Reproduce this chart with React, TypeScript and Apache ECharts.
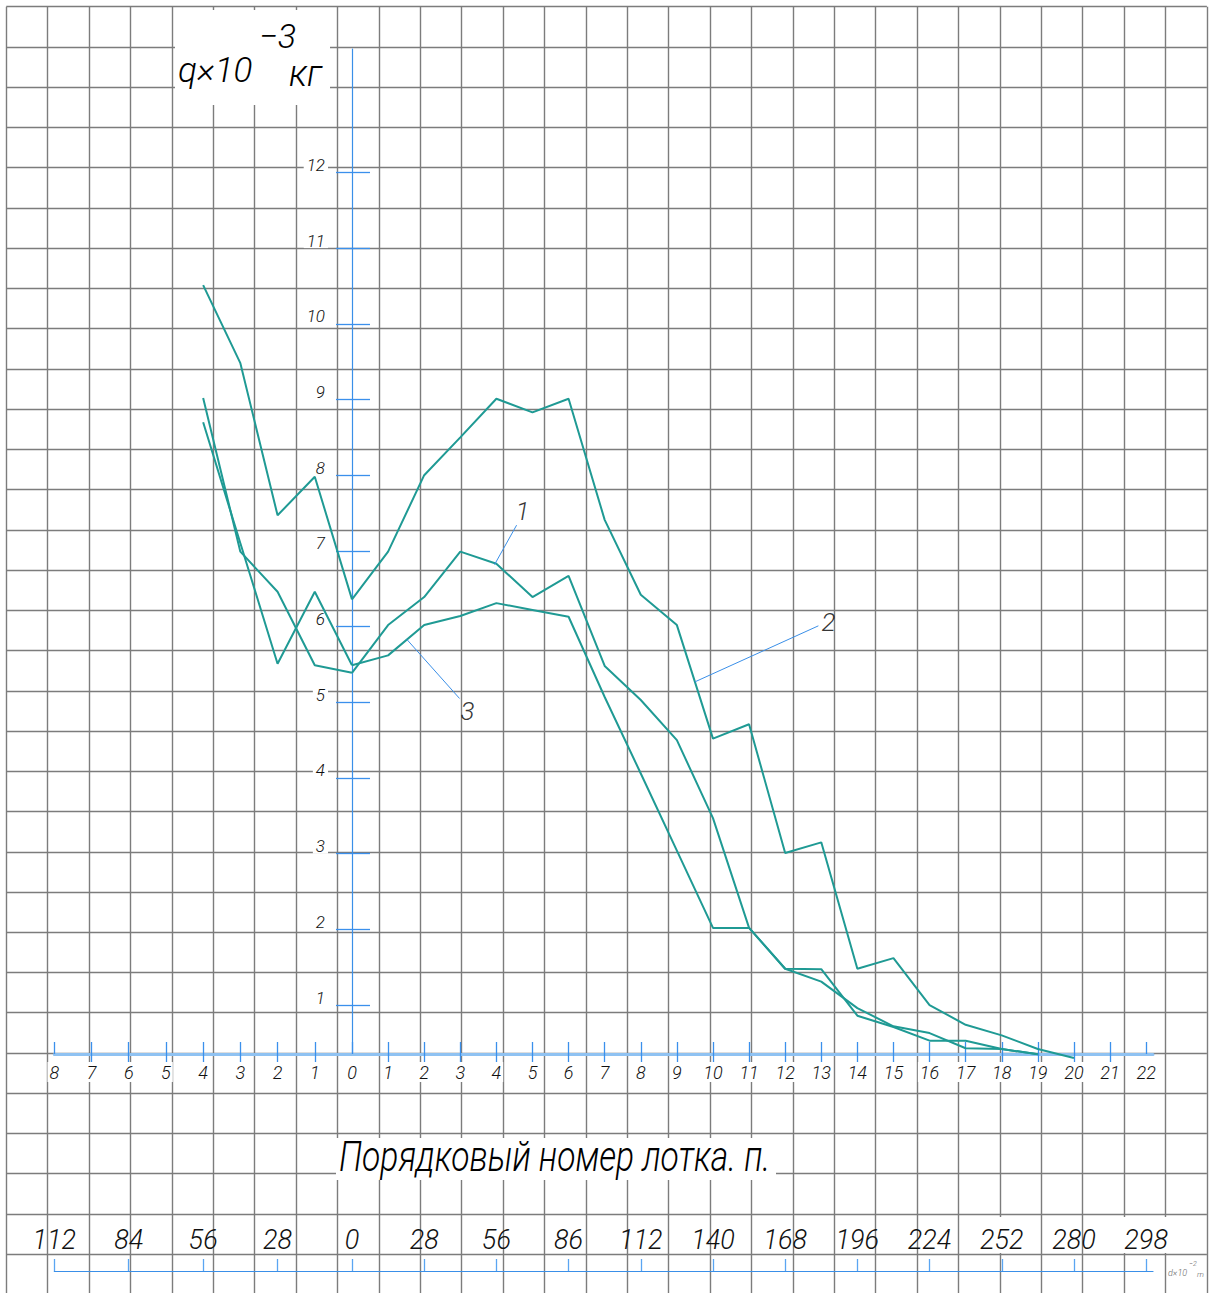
import React, { useEffect, useRef } from "react";
import * as echarts from "echarts";

// ---------- data (lot numbers; left side of zero uses negative positions) ----------
const lotsLeft = [-4, -3, -2, -1, 0];
const lotsRight = [0, 1, 2, 3, 4, 5, 6, 7, 8, 9, 10, 11, 12, 13, 14, 15, 16, 17, 18, 19, 20];

const curve2Left = [10.51, 9.48, 7.47, 7.98, 6.36];
const curve1Left = [9.02, 6.99, 6.46, 5.49, 5.39];
const curve3Left = [8.7, 7.1, 5.51, 6.46, 5.49];

const curve2Right = [6.36, 6.99, 8.0, 8.5, 9.01, 8.83, 9.01, 7.41, 6.42, 6.02, 4.52, 4.71, 3.01, 3.15, 1.48, 1.62, 1.0, 0.74, 0.6, 0.42, 0.3];
const curve1Right = [5.39, 6.02, 6.39, 6.99, 6.83, 6.39, 6.67, 5.48, 5.03, 4.5, 3.47, 2.02, 1.48, 1.475, 0.86, 0.71, 0.53, 0.53, 0.42, 0.35];
const curve3Right = [5.49, 5.62, 6.02, 6.14, 6.31, 6.22, 6.13, 5.07, 4.06, 3.04, 2.02, 2.02, 1.48, 1.31, 0.96, 0.72, 0.63, 0.43, 0.42, 0.35];

// tick values / labels
const xTicksLeft = [-8, -7, -6, -5, -4, -3, -2, -1];
const xTicksRight = [0, 1, 2, 3, 4, 5, 6, 7, 8, 9, 10, 11, 12, 13, 14, 15, 16, 17, 18, 19, 20, 21, 22];
const yTicks = [1, 2, 3, 4, 5, 6, 7, 8, 9, 10, 11, 12];
const distTicksLeft = [-8, -6, -4, -2];
const distLabelsLeft = ["112", "84", "56", "28"];
const distTicksRight = [0, 2, 4, 6, 8, 10, 12, 14, 16, 18, 20, 22];
const distLabelsRight = ["0", "28", "56", "86", "112", "140", "168", "196", "224", "252", "280", "298"];
const boxedDistLabels = ["252", "298"];

// curve annotations (label, leader start on curve, leader end, label point)
const annotationLabels = ["1", "2", "3"];
const leaderStart = [[3.95, 6.82], [9.5, 5.27], [1.52, 5.83]];
const leaderEnd = [[4.56, 7.34], [12.92, 6.01], [2.98, 5.05]];
const labelPos = [[4.72, 7.53], [13.2, 6.06], [3.2, 4.89]];

// ---------- style ----------
const FONT = "Roboto";
const TEXT = "#111";
const BLUE = "#3a8fe8";
const TICK_BLUE = "#3b90ec";
const AXIS_LIGHT = "#8fc2f2";
const TEAL = "#1f9a94";
const GRID_GRAY = "#7c7c7c";

const LEFT_MIN = -8;
const LEFT_MAX = 0;
const RIGHT_MIN = 0;
const RIGHT_MAX = 22.19;
const Y_MIN = 0.354;
const Y_MAX = 13.63;

const txt = {
  fontFamily: FONT,
  fontStyle: "italic" as const,
  fontWeight: 300,
  color: TEXT,
};

function mainX(gridIndex: number, min: number, max: number, ticks: number[]) {
  return {
    gridIndex,
    type: "value",
    min,
    max,
    position: "bottom",
    axisLine: { show: true, onZero: false, lineStyle: { color: AXIS_LIGHT, width: 3 } },
    axisTick: { show: true, inside: true, length: 12, customValues: ticks, lineStyle: { color: TICK_BLUE, width: 1.3 } },
    axisLabel: {
      show: true,
      customValues: ticks,
      formatter: (v: number) => String(Math.abs(v)),
      margin: 8,
      fontSize: 18,
      ...txt,
      backgroundColor: "#fff",
      padding: [1, 2],
    },
    splitLine: { show: false },
    z: 4,
  };
}

function outsideX(gridIndex: number, min: number, max: number, ticks: number[]) {
  return {
    gridIndex,
    type: "value",
    min,
    max,
    position: "bottom",
    axisLine: { show: false, onZero: false },
    axisTick: { show: true, inside: false, length: 8, customValues: ticks, lineStyle: { color: TICK_BLUE, width: 1.3 } },
    axisLabel: { show: false },
    splitLine: { show: false },
    z: 4,
  };
}

function distX(gridIndex: number, min: number, max: number, ticks: number[], labels: string[]) {
  return {
    gridIndex,
    type: "value",
    min,
    max,
    position: "bottom",
    offset: 217,
    axisLine: { show: true, onZero: false, lineStyle: { color: BLUE, width: 1.2 } },
    axisTick: { show: true, inside: true, length: 12, customValues: ticks, lineStyle: { color: "#5aa5f2", width: 1.3 } },
    axisLabel: {
      show: true,
      inside: true,
      margin: 18,
      customValues: ticks,
      formatter: (v: number) => {
        const i = ticks.indexOf(v);
        const s = i >= 0 ? labels[i] : "";
        return boxedDistLabels.includes(s) ? `{w|${s}}` : s;
      },
      fontSize: 27,
      ...txt,
      rich: {
        w: { backgroundColor: "#fff", padding: [9, 5, 0, 5], fontSize: 27, ...txt },
      },
    },
    splitLine: { show: false },
    z: 4,
  };
}

export default function App() {
  const ref = useRef<HTMLDivElement>(null);

  useEffect(() => {
    if (!ref.current) return;
    const chart = echarts.init(ref.current, undefined, { renderer: "svg" });

    const curveLine = (lots: number[], vals: number[], xi: number, yi: number) => ({
      type: "line",
      xAxisIndex: xi,
      yAxisIndex: yi,
      data: vals.map((v, i) => [lots[i], v]),
      symbol: "none",
      clip: false,
      silent: true,
      lineStyle: { color: TEAL, width: 2 },
      z: 5,
    });

    const leaders = annotationLabels.map((_, i) => ({
      type: "line",
      xAxisIndex: 4,
      yAxisIndex: 2,
      data: [leaderStart[i], leaderEnd[i]],
      symbol: "none",
      clip: false,
      silent: true,
      lineStyle: { color: BLUE, width: 1 },
      z: 6,
    }));

    const option: any = {
      animation: false,
      backgroundColor: "#fff",
      grid: [
        { left: 6.3, top: 6.7, width: 1200.6, height: 1287.7, containLabel: false, outerBoundsMode: "none" },
        { left: 54.3, top: 49, width: 297.7, height: 1005, containLabel: false, outerBoundsMode: "none" },
        { left: 352, top: 49, width: 801, height: 1005, containLabel: false, outerBoundsMode: "none" },
      ],
      xAxis: [
        {
          gridIndex: 0,
          type: "value",
          min: 0,
          max: 29,
          interval: 1,
          axisLine: { show: false },
          axisTick: { show: false },
          axisLabel: { show: false },
          splitLine: { show: true, lineStyle: { color: GRID_GRAY, width: 1.4 } },
          z: 0,
        },
        mainX(1, LEFT_MIN, LEFT_MAX, xTicksLeft),
        outsideX(1, LEFT_MIN, LEFT_MAX, xTicksLeft.filter((v) => v !== -8)),
        distX(1, LEFT_MIN, LEFT_MAX, distTicksLeft, distLabelsLeft),
        mainX(2, RIGHT_MIN, RIGHT_MAX, xTicksRight),
        outsideX(2, RIGHT_MIN, RIGHT_MAX, xTicksRight.filter((v) => v !== 0 && v !== 22)),
        distX(2, RIGHT_MIN, RIGHT_MAX, distTicksRight, distLabelsRight),
      ],
      yAxis: [
        {
          gridIndex: 0,
          type: "value",
          min: 0,
          max: 32,
          interval: 1,
          axisLine: { show: false },
          axisTick: { show: false },
          axisLabel: { show: false },
          splitLine: { show: true, lineStyle: { color: GRID_GRAY, width: 1.4 } },
          z: 0,
        },
        { gridIndex: 1, type: "value", min: Y_MIN, max: Y_MAX, show: false },
        {
          gridIndex: 2,
          type: "value",
          min: Y_MIN,
          max: Y_MAX,
          position: "left",
          axisLine: { show: true, onZero: false, lineStyle: { color: BLUE, width: 1.2 } },
          axisTick: { show: true, inside: false, length: 16, customValues: yTicks, lineStyle: { color: TICK_BLUE, width: 1.3 } },
          axisLabel: {
            show: true,
            customValues: yTicks,
            margin: 24,
            fontSize: 17,
            ...txt,
            verticalAlign: "bottom",
            lineHeight: 15,
            backgroundColor: "#fff",
            padding: [0, 3],
          },
          splitLine: { show: false },
          z: 4,
        },
        {
          gridIndex: 2,
          type: "value",
          min: Y_MIN,
          max: Y_MAX,
          position: "left",
          axisLine: { show: false, onZero: false },
          axisTick: { show: true, inside: true, length: 18, customValues: yTicks, lineStyle: { color: TICK_BLUE, width: 1.3 } },
          axisLabel: { show: false },
          splitLine: { show: false },
          z: 4,
        },
      ],
      series: [
        curveLine(lotsLeft, curve2Left, 1, 1),
        curveLine(lotsLeft, curve1Left, 1, 1),
        curveLine(lotsLeft, curve3Left, 1, 1),
        curveLine(lotsRight, curve2Right, 4, 2),
        curveLine(lotsRight, curve1Right, 4, 2),
        curveLine(lotsRight, curve3Right, 4, 2),
        ...leaders,
        {
          type: "scatter",
          xAxisIndex: 4,
          yAxisIndex: 2,
          data: labelPos,
          symbolSize: 1,
          silent: true,
          itemStyle: { color: "rgba(0,0,0,0)" },
          label: {
            show: true,
            position: "inside",
            formatter: (p: any) => annotationLabels[p.dataIndex],
            fontSize: 26,
            ...txt,
            color: "#000",
          },
          z: 7,
        },
      ],
      graphic: [
        { type: "rect", z: 10, shape: { x: 175, y: 10, width: 155, height: 95 }, style: { fill: "#fff" } },
        {
          type: "text",
          z: 11,
          x: 178,
          y: 70,
          style: { text: "q×10", font: `italic 300 35px ${FONT}`, fill: "#000", align: "left", verticalAlign: "middle" },
        },
        {
          type: "text",
          z: 11,
          x: 259,
          y: 36,
          style: { text: "−3", font: `italic 300 34px ${FONT}`, fill: "#000", align: "left", verticalAlign: "middle" },
        },
        {
          type: "text",
          z: 11,
          x: 289,
          y: 74,
          style: { text: "кг", font: `italic 300 36px ${FONT}`, fill: "#000", align: "left", verticalAlign: "middle" },
        },
        { type: "rect", z: 10, shape: { x: 336, y: 1138, width: 440, height: 42 }, style: { fill: "#fff" } },
        {
          type: "text",
          z: 11,
          x: 339,
          y: 1157,
          scaleX: 0.8,
          style: {
            text: "Порядковый номер лотка. п.",
            font: `italic 300 42px ${FONT}`,
            fill: "#000",
            align: "left",
            verticalAlign: "middle",
          },
        },
        {
          type: "text",
          z: 11,
          x: 1168,
          y: 1273,
          style: { text: "d×10", font: `italic 300 9px ${FONT}`, fill: "#666", align: "left", verticalAlign: "middle" },
        },
        {
          type: "text",
          z: 11,
          x: 1189,
          y: 1264,
          style: { text: "−2", font: `italic 300 7px ${FONT}`, fill: "#666", align: "left", verticalAlign: "middle" },
        },
        {
          type: "text",
          z: 11,
          x: 1197,
          y: 1274,
          style: { text: "m", font: `italic 300 8px ${FONT}`, fill: "#666", align: "left", verticalAlign: "middle" },
        },
      ],
    };

    chart.setOption(option);
    return () => chart.dispose();
  }, []);

  return (
    <div
      ref={ref}
      style={{ position: "absolute", left: 0, top: 0, width: 1209, height: 1293, background: "#fff" }}
    />
  );
}
